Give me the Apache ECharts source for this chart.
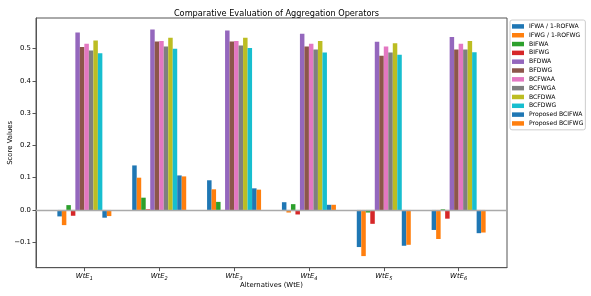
<!DOCTYPE html>
<html>
<head>
<meta charset="utf-8">
<script src="https://cdn.jsdelivr.net/npm/echarts@6/dist/echarts.min.js"></script>
<style>html,body{margin:0;padding:0;background:#fff}#c{width:591px;height:296px}</style>
</head>
<body>
<div id="c"></div>
<script>
const categories = ['1', '2', '3', '4', '5', '6'];
const seriesNames = ['IFWA / 1-ROFWA', 'IFWG / 1-ROFWG', 'BIFWA', 'BIFWG', 'BFDWA', 'BFDWG', 'BCFWAA', 'BCFWGA', 'BCFDWA', 'BCFDWG', 'Proposed BCIFWA', 'Proposed BCIFWG'];
const IFWA = [-0.020, 0.138, 0.092, 0.024, -0.115, -0.062];
const IFWG = [-0.047, 0.100, 0.064, -0.008, -0.143, -0.090];
const BIFWA = [0.015, 0.038, 0.025, 0.018, -0.008, 0.002];
const BIFWG = [-0.018, 0.002, -0.002, -0.014, -0.043, -0.027];
const BFDWA = [0.550, 0.559, 0.556, 0.546, 0.521, 0.536];
const BFDWG = [0.505, 0.522, 0.522, 0.507, 0.478, 0.497];
const BCFWAA = [0.515, 0.524, 0.524, 0.515, 0.507, 0.515];
const BCFWGA = [0.494, 0.507, 0.510, 0.497, 0.488, 0.497];
const BCFDWA = [0.525, 0.534, 0.534, 0.524, 0.517, 0.524];
const BCFDWG = [0.486, 0.500, 0.502, 0.488, 0.481, 0.489];
const PBCIFWA = [-0.024, 0.107, 0.067, 0.016, -0.111, -0.072];
const PBCIFWG = [-0.019, 0.104, 0.063, 0.016, -0.108, -0.070];
const yTicks = [-0.1, 0.0, 0.1, 0.2, 0.3, 0.4, 0.5];
const xTicks = [0, 1, 2, 3, 4, 5];

const allValues = [IFWA, IFWG, BIFWA, BIFWG, BFDWA, BFDWG, BCFWAA, BCFWGA, BCFDWA, BCFDWG, PBCIFWA, PBCIFWG];
const colors = ['#1f77b4', '#ff7f0e', '#2ca02c', '#d62728', '#9467bd', '#8c564b', '#e377c2', '#7f7f7f', '#bcbd22', '#17becf', '#1f77b4', '#ff7f0e'];
const font = 'DejaVu Sans';

const series = allValues.map((vals, i) => {
  const s = {
    name: seriesNames[i],
    type: 'bar',
    barWidth: 4.5,
    barGap: '0%',
    itemStyle: { color: colors[i] },
    data: vals.map((v, j) => [j, v])
  };
  if (i === 0) {
    s.markLine = {
      silent: true, symbol: 'none', label: { show: false },
      lineStyle: { color: '#aaaaaa', width: 1.4, type: 'solid' },
      data: [{ yAxis: 0 }], animation: false
    };
  }
  return s;
});

const chart = echarts.init(document.getElementById('c'), null, { renderer: 'canvas' });
chart.setOption({
  animation: false,
  color: colors,
  title: {
    text: 'Comparative Evaluation of Aggregation Operators',
    left: 271.5, textAlign: 'center', top: 5,
    textStyle: { fontFamily: font, fontSize: 8.2, fontWeight: 'normal', color: '#000' }
  },
  legend: {
    orient: 'vertical', left: 510, top: 20,
    padding: [2, 2, 2, 2],
    itemWidth: 12, itemHeight: 4.5, itemGap: 0, itemTextGap: 4,
    icon: 'rect',
    backgroundColor: '#fff', borderColor: '#cccccc', borderWidth: 1, borderRadius: 2,
    textStyle: { fontFamily: font, fontSize: 6.1, color: '#000', lineHeight: 8.82 },
    data: seriesNames
  },
  grid: {
    left: 36, right: 84, top: 18, bottom: 28.3,
    show: true, borderColor: '#555', borderWidth: 1, containLabel: false,
    outerBoundsMode: 'none'
  },
  xAxis: {
    type: 'value', min: -0.646, max: 5.646,
    name: 'Alternatives (WtE)', nameLocation: 'middle', nameGap: 14, nameMoveOverlap: false,
    nameTextStyle: { fontFamily: font, fontSize: 6.9, color: '#000' },
    axisLine: { show: true, onZero: false, lineStyle: { color: '#555', width: 1 } },
    splitLine: { show: false },
    axisTick: { show: true, customValues: xTicks, length: 3.5, lineStyle: { color: '#555' } },
    axisLabel: {
      customValues: xTicks, margin: 4,
      formatter: v => '{a|WtE}{b|' + categories[Math.round(v)] + '}',
      rich: {
        a: { fontFamily: font, fontSize: 6.9, fontStyle: 'italic', color: '#000', lineHeight: 10 },
        b: { fontFamily: font, fontSize: 5, fontStyle: 'italic', color: '#000', verticalAlign: 'bottom' }
      }
    }
  },
  yAxis: {
    type: 'value', min: -0.179, max: 0.595,
    name: 'Score Values', nameLocation: 'middle', nameGap: 22, nameRotate: 90, nameMoveOverlap: false,
    nameTextStyle: { fontFamily: font, fontSize: 6.9, color: '#000' },
    axisLine: { show: true, onZero: false, lineStyle: { color: '#555', width: 1 } },
    splitLine: { show: false },
    axisTick: { show: true, customValues: yTicks, length: 3.5, lineStyle: { color: '#555' } },
    axisLabel: {
      customValues: yTicks, margin: 5,
      fontFamily: font, fontSize: 6.9, color: '#000',
      formatter: v => (v < -1e-9 ? '\u2212' + Math.abs(v).toFixed(1) : Math.abs(v).toFixed(1))
    }
  },
  series: series
});
</script>
</body>
</html>
